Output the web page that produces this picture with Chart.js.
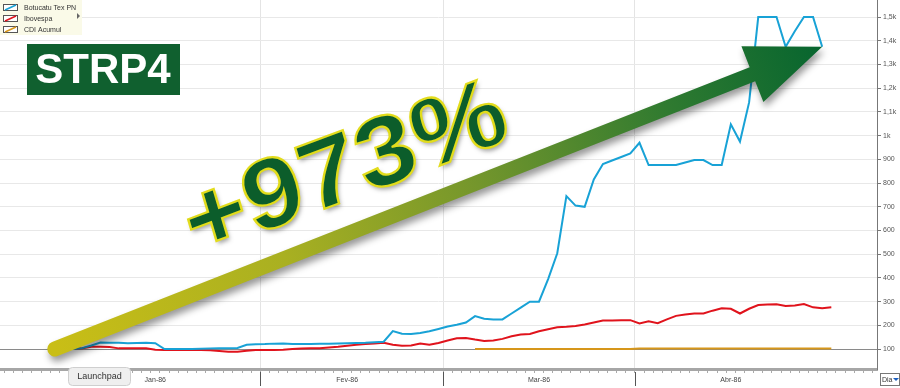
<!DOCTYPE html>
<html>
<head>
<meta charset="utf-8">
<title>STRP4</title>
<script src="https://cdn.jsdelivr.net/npm/chart.js@4.4.0/dist/chart.umd.min.js"></script>
<style>
  html, body { margin: 0; padding: 0; background: #fff; }
  #wrap { position: relative; width: 900px; height: 388px; }
</style>
</head>
<body>
<div id="wrap"><canvas id="strpChart"></canvas></div>
<script>
// months shown on the time axis and trading days in each
const months = ['Jan-86', 'Fev-86', 'Mar-86', 'Abr-86'];
const tradingDays = [23, 20, 21, 22];
const emptyBefore = 6;   // blank slots left of January
const emptyAfter = 5;    // blank slots right of April

// series, base 100, one value per trading day from 'Jan-86 1'
const botucatu = [100, 100, 100, 104, 115, 128, 127, 127, 125, 126, 127, 125, 100, 100, 100, 100, 101, 102, 103, 104, 105, 118, 120,
  121, 123, 124, 121, 121, 121, 122, 122, 124, 125, 126, 127, 129, 131, 176, 165, 164, 168, 175, 185,
  195, 203, 212, 239, 228, 225, 225, 250, 275, 300, 300, 395, 504, 745, 705, 700, 815, 880, 895, 910, 925,
  970, 876, 876, 876, 876, 887, 897, 897, 876, 876, 1048, 975, 1140, 1500, 1500, 1500, 1375, 1440, 1500, 1500, 1375];
const ibovespa = [100, 100, 101, 104, 110, 110, 109, 103, 103, 103, 103, 97, 96, 96, 96, 96, 96, 95, 92, 89, 89, 93, 96,
  96, 96, 97, 100, 102, 103, 104, 107, 110, 114, 118, 121, 124, 127, 118, 114, 115, 123, 118, 126,
  136, 146, 147, 140, 134, 136, 143, 154, 161, 164, 175, 184, 192, 194, 197, 204, 212, 220, 221, 222, 222,
  208, 217, 209, 225, 240, 246, 250, 250, 262, 272, 270, 250, 270, 286, 288, 289, 282, 284, 290, 276, 272, 276];
// CDI starts on 'Mar-86 4'
const cdi = [100, 100, 100, 100, 100, 100, 100, 100, 100, 100, 100, 100, 100, 100, 100, 100, 100, 100,
  102, 102, 102, 102, 102, 102, 102, 102, 102, 102, 102, 102, 102, 102, 102, 102, 102, 102, 102, 102, 102, 102];
const seriesNames = ['Botucatu Tex PN', 'Ibovespa', 'CDI Acumul'];
const yTicks = [100, 200, 300, 400, 500, 600, 700, 800, 900, 1000, 1100, 1200, 1300, 1400, 1500];
const baseValue = 100;
const headline = 'STRP4';
const gainText = '+973%';

// day labels and month label slots
const labels = [];
for (let i = 0; i < emptyBefore; i++) labels.push('Dez-85');
const monthStart = [], monthLabelAt = {};
months.forEach((m, k) => {
  monthStart.push(labels.length);
  monthLabelAt[labels.length + Math.floor((tradingDays[k] - 1) / 2)] = m;
  for (let d = 1; d <= tradingDays[k]; d++) labels.push(m + ' ' + d);
});
for (let i = 0; i < emptyAfter; i++) labels.push('Mai-86');

function padTo(startLabel, values) {
  const start = labels.indexOf(startLabel);
  return new Array(start).fill(null).concat(values);
}

const FONT = "'Liberation Sans', Arial, sans-serif";

const overlay = {
  id: 'overlay',
  beforeDatasetsDraw(chart) {
    const { ctx, chartArea: a, scales: { y } } = chart;
    const yy = Math.round(y.getPixelForValue(baseValue)) + 0.5;
    ctx.save();
    ctx.strokeStyle = '#8a8a8a';
    ctx.lineWidth = 1;
    ctx.beginPath(); ctx.moveTo(a.left, yy); ctx.lineTo(a.right, yy); ctx.stroke();
    ctx.restore();
  },
  afterDraw(chart) {
    const { ctx, chartArea: a, scales: { x, y } } = chart;
    ctx.save();

    // month separators in the axis band
    ctx.strokeStyle = '#555';
    ctx.lineWidth = 1;
    for (let k = 1; k < monthStart.length; k++) {
      const i = monthStart[k];
      const sx = Math.round((x.getPixelForValue(i) + x.getPixelForValue(i - 1)) / 2) + 0.5;
      ctx.beginPath(); ctx.moveTo(sx, a.bottom + 3); ctx.lineTo(sx, 386); ctx.stroke();
    }

    // legend box
    ctx.fillStyle = '#fafae8';
    ctx.fillRect(0, 0, 82, 35);
    chart.data.datasets.forEach((ds, k) => {
      const ry = 4 + k * 11;
      ctx.fillStyle = '#fff';
      ctx.fillRect(3, ry, 15, 7);
      ctx.strokeStyle = '#555';
      ctx.lineWidth = 1;
      ctx.strokeRect(3.5, ry + 0.5, 14, 6);
      ctx.strokeStyle = ds.borderColor;
      ctx.lineWidth = 1.5;
      ctx.beginPath(); ctx.moveTo(5, ry + 6); ctx.lineTo(16, ry + 1); ctx.stroke();
      ctx.fillStyle = '#333';
      ctx.font = '7px ' + FONT;
      ctx.textBaseline = 'middle';
      ctx.fillText(ds.label, 24, ry + 4);
    });
    ctx.fillStyle = '#666';
    ctx.beginPath(); ctx.moveTo(77, 13); ctx.lineTo(80, 16); ctx.lineTo(77, 19); ctx.fill();

    // ticker badge
    ctx.fillStyle = '#10602f';
    ctx.fillRect(27, 44, 153, 51);
    ctx.fillStyle = '#fff';
    ctx.font = 'bold 42px ' + FONT;
    ctx.textAlign = 'center';
    ctx.textBaseline = 'middle';
    ctx.fillText(headline, 103, 71);

    // arrow from first to last Botucatu value
    const t0 = labels.indexOf('Jan-86 1');
    const tail = { x: x.getPixelForValue(t0), y: y.getPixelForValue(botucatu[0]) };
    const tip = { x: x.getPixelForValue(t0 + botucatu.length - 1), y: y.getPixelForValue(botucatu[botucatu.length - 1]) };
    const len = Math.hypot(tip.x - tail.x, tip.y - tail.y);
    const u = { x: (tip.x - tail.x) / len, y: (tip.y - tail.y) / len };
    const n = { x: -u.y, y: u.x };
    const hw = 7.5, headLen = 75, headHalf = 30;
    const base = { x: tip.x - u.x * headLen, y: tip.y - u.y * headLen };
    const grad = ctx.createLinearGradient(tail.x, tail.y, tip.x, tip.y);
    grad.addColorStop(0, '#c9be16');
    grad.addColorStop(0.3, '#a9b021');
    grad.addColorStop(0.55, '#74962c');
    grad.addColorStop(0.8, '#2f7a30');
    grad.addColorStop(1, '#07652f');
    const na = Math.atan2(n.y, n.x);
    ctx.beginPath();
    ctx.moveTo(base.x + n.x * hw, base.y + n.y * hw);
    ctx.lineTo(tail.x + n.x * hw, tail.y + n.y * hw);
    ctx.arc(tail.x, tail.y, hw, na, na + Math.PI, false);
    ctx.lineTo(base.x - n.x * hw, base.y - n.y * hw);
    ctx.lineTo(base.x - n.x * headHalf, base.y - n.y * headHalf);
    ctx.lineTo(tip.x, tip.y);
    ctx.lineTo(base.x + n.x * headHalf, base.y + n.y * headHalf);
    ctx.closePath();
    ctx.shadowColor = 'rgba(0,0,0,0.4)';
    ctx.shadowBlur = 7;
    ctx.shadowOffsetX = 2;
    ctx.shadowOffsetY = 5;
    ctx.fillStyle = grad;
    ctx.fill();

    // gain text, slanted a bit more along its baseline than its verticals
    ctx.save();
    ctx.translate(346, 172);
    ctx.rotate(-16.5 * Math.PI / 180);
    ctx.transform(1, Math.tan(-4 * Math.PI / 180), 0, 1, 0, 0);
    ctx.scale(1.1, 1);
    ctx.font = 'bold 98px ' + FONT;
    ctx.textAlign = 'center';
    ctx.textBaseline = 'middle';
    ctx.shadowColor = 'rgba(0,0,0,0.35)';
    ctx.shadowBlur = 4;
    ctx.shadowOffsetX = 2;
    ctx.shadowOffsetY = 3;
    ctx.fillStyle = '#0c5d2b';
    ctx.fillText(gainText, 0, 0);
    ctx.shadowColor = 'transparent';
    ctx.strokeStyle = '#e2dc1c';
    ctx.lineWidth = 2.2;
    ctx.strokeText(gainText, 0, 0);
    ctx.restore();
    ctx.shadowColor = 'transparent';

    // Launchpad tip
    ctx.fillStyle = '#efefef';
    ctx.strokeStyle = '#cfcfcf';
    ctx.lineWidth = 1;
    ctx.beginPath();
    ctx.roundRect(68.5, 367.5, 62, 18, 4);
    ctx.fill(); ctx.stroke();
    ctx.fillStyle = '#333';
    ctx.font = '9px ' + FONT;
    ctx.textAlign = 'center';
    ctx.fillText('Launchpad', 99.5, 377);

    // period selector
    ctx.fillStyle = '#fff';
    ctx.strokeStyle = '#777';
    ctx.fillRect(880, 373, 19, 13);
    ctx.strokeRect(880.5, 373.5, 19, 12);
    ctx.fillStyle = '#333';
    ctx.font = '7px ' + FONT;
    ctx.textAlign = 'left';
    ctx.fillText('Dia', 882, 380);
    ctx.fillStyle = '#1a5fc0';
    ctx.beginPath(); ctx.moveTo(893, 378); ctx.lineTo(899, 378); ctx.lineTo(896, 381); ctx.fill();
    ctx.restore();
  }
};

new Chart(document.getElementById('strpChart'), {
  type: 'line',
  data: {
    labels: labels,
    datasets: [
      { label: seriesNames[0], data: padTo('Jan-86 1', botucatu), borderColor: '#18a2d6' },
      { label: seriesNames[1], data: padTo('Jan-86 1', ibovespa), borderColor: '#e0131c' },
      { label: seriesNames[2], data: padTo('Mar-86 4', cdi), borderColor: '#d6961a' }
    ]
  },
  options: {
    responsive: true,
    maintainAspectRatio: false,
    animation: false,
    devicePixelRatio: 1,
    layout: { padding: 0 },
    elements: {
      point: { radius: 0 },
      line: { borderWidth: 2, tension: 0 }
    },
    plugins: {
      legend: { display: false },
      tooltip: { enabled: false }
    },
    scales: {
      x: {
        type: 'category',
        offset: false,
        grid: {
          offset: true,
          color: ctx => monthStart.indexOf(ctx.index) > 0 ? '#e4e4e4' : 'rgba(0,0,0,0)',
          tickColor: '#aaa',
          tickLength: 4
        },
        border: { color: '#a6a6a6', width: 3 },
        ticks: {
          autoSkip: false,
          maxRotation: 0,
          minRotation: 0,
          padding: 3,
          color: '#444',
          font: { size: 7, family: FONT },
          callback: (v, i) => monthLabelAt[i] || ''
        },
        afterFit: s => { s.height = 19; s.paddingLeft = 0; s.paddingRight = 0; }
      },
      y: {
        position: 'right',
        min: 16,
        max: 1572,
        grid: { color: '#e8e8e8', tickColor: '#777', tickLength: 4 },
        border: { color: '#777', width: 1 },
        ticks: {
          padding: 2,
          color: '#555',
          font: { size: 7, family: FONT },
          callback: v => v >= 1000 ? String(v / 1000).replace('.', ',') + 'k' : String(v)
        },
        afterBuildTicks: s => { s.ticks = yTicks.map(v => ({ value: v })); },
        afterFit: s => { s.width = 23; s.paddingTop = 0; s.paddingBottom = 0; }
      }
    }
  },
  plugins: [overlay]
});
</script>
</body>
</html>
